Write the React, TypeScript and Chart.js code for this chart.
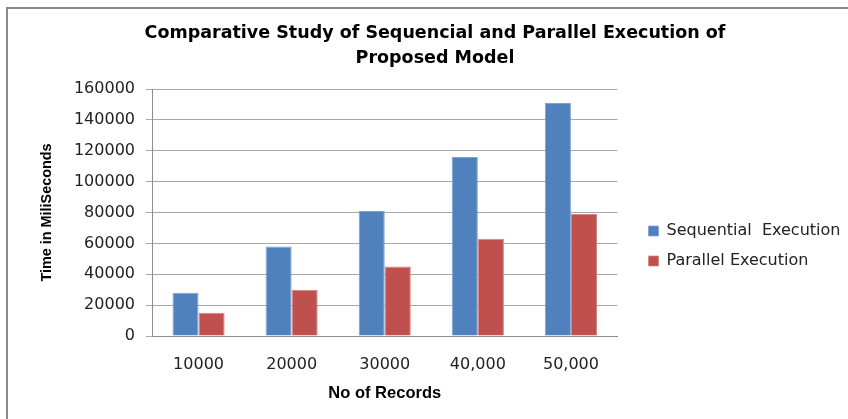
import React, { useEffect, useRef } from 'react';
import { Chart, registerables, layouts } from 'chart.js';

Chart.register(...registerables);

const categories = ['10000', '20000', '30000', '40,000', '50,000'];
const sequentialValues = [28000, 58000, 81000, 116000, 151000];
const parallelValues = [15000, 30000, 45000, 63000, 79000];
const seriesNames = ['Sequential  Execution', 'Parallel Execution'];
const titleLines = ['Comparative Study of Sequencial and Parallel Execution of', 'Proposed Model'];
const yAxisTitle = 'Time in MiliSeconds';
const xAxisTitle = 'No of Records';
const yMin = 0;
const yMax = 160000;
const yStep = 20000;

const FONT = '"DejaVu Sans", "Liberation Sans", sans-serif';

const titlePlugin = {
  id: 'refTitle',
  afterDraw(chart: any) {
    const ctx = chart.ctx;
    ctx.save();
    ctx.font = `bold 17.5px ${FONT}`;
    ctx.fillStyle = '#000';
    ctx.textAlign = 'center';
    ctx.textBaseline = 'middle';
    titleLines.forEach((line, i) => ctx.fillText(line, 435, 33 + i * 25));
    ctx.restore();
  },
};

// an invisible gap between the plot area and the legend
const spacerPlugin = {
  id: 'legendSpacer',
  beforeInit(chart: any) {
    const box: any = {
      position: 'right',
      weight: 500,
      fullSize: false,
      options: { display: false },
      width: 0,
      height: 0,
      isHorizontal() {
        return false;
      },
      update(_w: number, h: number) {
        this.width = 17;
        this.height = h;
      },
      getPadding() {
        return { top: 0, left: 0, right: 0, bottom: 0 };
      },
      draw() {},
    };
    layouts.addBox(chart, box);
  },
};

export default function App() {
  const ref = useRef<HTMLCanvasElement | null>(null);

  useEffect(() => {
    if (!ref.current) return;
    const chart = new Chart(ref.current, {
      type: 'bar',
      data: {
        labels: categories,
        datasets: [
          {
            label: seriesNames[0],
            data: sequentialValues,
            backgroundColor: '#4F81BD',
            borderColor: '#7FA2D3',
            borderWidth: { top: 1, left: 1, right: 1, bottom: 0 },
            borderSkipped: 'bottom',
          },
          {
            label: seriesNames[1],
            data: parallelValues,
            backgroundColor: '#C0504D',
            borderColor: '#D48582',
            borderWidth: { top: 1, left: 1, right: 1, bottom: 0 },
            borderSkipped: 'bottom',
          },
        ],
      },
      plugins: [titlePlugin, spacerPlugin],
      options: {
        responsive: false,
        animation: false,
        devicePixelRatio: 1,
        layout: { padding: { top: 89, left: 0, right: 2, bottom: 16 } },
        datasets: { bar: { categoryPercentage: 0.56, barPercentage: 1 } },
        plugins: {
          title: { display: false },
          tooltip: { enabled: false },
          legend: {
            position: 'right',
            align: 'center',
            labels: {
              boxWidth: 10,
              boxHeight: 10,
              padding: 14,
              color: '#222',
              font: { family: FONT, size: 16 },
            },
          },
        },
        scales: {
          x: {
            grid: { display: false, drawTicks: false },
            border: { display: true, color: '#8c8c8c' },
            ticks: { color: '#222', padding: 19, font: { family: FONT, size: 16 } },
            title: {
              display: true,
              text: xAxisTitle,
              color: '#000',
              padding: { top: -10, bottom: 0 },
              font: { family: '"Liberation Sans", sans-serif', size: 16.5, weight: 'bold' },
            },
          },
          y: {
            min: yMin,
            max: yMax,
            afterFit(scale: any) {
              scale.width = 152;
            },
            grid: { color: '#a8a8a8', lineWidth: 1, tickLength: 6, drawTicks: true },
            border: { display: true, color: '#8c8c8c' },
            ticks: {
              stepSize: yStep,
              color: '#222',
              padding: 11,
              font: { family: FONT, size: 16 },
              callback: (v: any) => String(v),
            },
            title: {
              display: true,
              text: yAxisTitle,
              color: '#000',
              padding: { top: 38, bottom: 0 },
              font: { family: '"Liberation Sans", sans-serif', size: 14.4, weight: 'bold' },
            },
          },
        },
      },
    });
    return () => chart.destroy();
  }, []);

  return (
    <div style={{ position: 'fixed', left: 0, top: 0, width: 848, height: 419, background: '#fff' }}>
      <canvas ref={ref} width={848} height={419} style={{ position: 'absolute', left: 0, top: 0 }} />
      <div
        style={{
          position: 'absolute',
          left: 6,
          top: 7,
          right: 0,
          bottom: 0,
          borderLeft: '2px solid #8a8a8a',
          borderTop: '2px solid #8a8a8a',
          pointerEvents: 'none',
        }}
      />
    </div>
  );
}
